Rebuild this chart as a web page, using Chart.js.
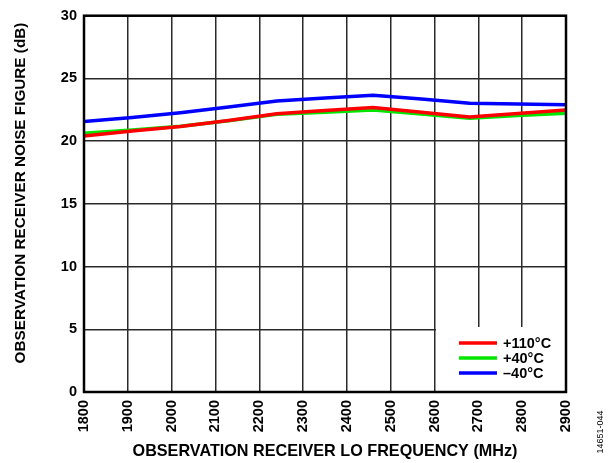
<!DOCTYPE html>
<html><head><meta charset="utf-8">
<script src="https://cdn.jsdelivr.net/npm/chart.js@4/dist/chart.umd.min.js"></script>
<style>html,body{margin:0;padding:0;background:#fff}#wrap{width:616px;height:463px;position:relative}</style>
</head><body><div id="wrap"><canvas id="c" width="616" height="463"></canvas></div>
<script>
const frequencies = [1800, 1910, 2020, 2130, 2240, 2350, 2460, 2570, 2680, 2790, 2900];
const nfPlus110 = [20.41, 20.80, 21.17, 21.65, 22.19, 22.44, 22.69, 22.31, 21.93, 22.20, 22.48];
const nfPlus40  = [20.62, 20.88, 21.18, 21.62, 22.14, 22.31, 22.48, 22.16, 21.83, 22.04, 22.22];
const nfMinus40 = [21.56, 21.88, 22.26, 22.72, 23.20, 23.43, 23.66, 23.35, 23.03, 22.97, 22.90];
const seriesLabels = ['+110°C', '+40°C', '\u201340°C'];
const seriesColors = ['#ff0000', '#00e600', '#0000ff'];
const xTickValues = [1800, 1900, 2000, 2100, 2200, 2300, 2400, 2500, 2600, 2700, 2800, 2900];
const yTickValues = [0, 5, 10, 15, 20, 25, 30];
const xTitle = 'OBSERVATION RECEIVER LO FREQUENCY (MHz)';
const yTitle = 'OBSERVATION RECEIVER NOISE FIGURE (dB)';
const figureId = '14651-044';

const FONT = "Arial, 'Liberation Sans', sans-serif";
const toPts = arr => arr.map((v, i) => ({x: frequencies[i], y: v}));
const allSeries = [nfPlus110, nfPlus40, nfMinus40];

const overlay = {
  id: 'overlay',
  afterDatasetsDraw(chart) {
    const ctx = chart.ctx, a = chart.chartArea;
    ctx.save();
    ctx.fillStyle = '#fff';
    ctx.fillRect(436, 327, a.right - 1 - 436, a.bottom - 1 - 327);
    ctx.font = 'bold 14.5px ' + FONT;
    ctx.textBaseline = 'middle';
    ctx.textAlign = 'left';
    chart.data.datasets.forEach((ds, i) => {
      const y = 343 + i * 15;
      ctx.strokeStyle = ds.borderColor;
      ctx.lineWidth = 3.5;
      ctx.beginPath(); ctx.moveTo(459, y); ctx.lineTo(497, y); ctx.stroke();
      ctx.fillStyle = '#000';
      ctx.fillText(ds.label, 503, y + 1);
    });
    ctx.restore();
  },
  afterDraw(chart) {
    const ctx = chart.ctx, a = chart.chartArea;
    ctx.save();
    ctx.strokeStyle = '#000';
    ctx.lineWidth = 2.5;
    ctx.strokeRect(a.left, a.top, a.right - a.left, a.bottom - a.top);
    ctx.restore();
    ctx.save();
    ctx.translate(21, 193);
    ctx.rotate(-Math.PI / 2);
    ctx.font = 'bold 15.3px ' + FONT;
    ctx.fillStyle = '#000';
    ctx.textAlign = 'center';
    ctx.textBaseline = 'middle';
    ctx.fillText(yTitle, 0, 0);
    ctx.restore();
    ctx.save();
    ctx.translate(601, 432);
    ctx.rotate(-Math.PI / 2);
    ctx.font = '9px ' + FONT;
    ctx.fillStyle = '#000';
    ctx.textAlign = 'center';
    ctx.textBaseline = 'middle';
    ctx.fillText(figureId, 0, 0);
    ctx.restore();
  }
};

new Chart(document.getElementById('c'), {
  type: 'line',
  data: {
    datasets: allSeries.map((s, i) => ({
      label: seriesLabels[i],
      data: toPts(s),
      borderColor: seriesColors[i],
      backgroundColor: seriesColors[i],
      borderWidth: 3.5,
      pointRadius: 0,
      tension: 0,
      fill: false
    }))
  },
  options: {
    responsive: false,
    animation: false,
    devicePixelRatio: 1,
    layout: {padding: {left: 0, right: 50, top: 11, bottom: 0}},
    plugins: {legend: {display: false}, tooltip: {enabled: false}},
    scales: {
      x: {
        type: 'linear', min: 1800, max: 2900,
        afterBuildTicks: s => { s.ticks = xTickValues.map(v => ({value: v})); },
        afterFit: s => { s.height = 71; },
        ticks: {
          color: '#000', font: {family: FONT, size: 14.5, weight: 'bold'},
          minRotation: 90, maxRotation: 90, padding: 8, autoSkip: false,
          callback: v => String(v)
        },
        grid: {color: '#2a2a2a', lineWidth: 1.5, drawTicks: false},
        border: {display: false},
        title: {display: true, text: xTitle, color: '#000',
          font: {family: FONT, size: 16.2, weight: 'bold'}, padding: {top: 0, bottom: 2}}
      },
      y: {
        type: 'linear', min: 0, max: 30,
        afterBuildTicks: s => { s.ticks = yTickValues.map(v => ({value: v})); },
        afterFit: s => { s.width = 84; },
        ticks: {color: '#000', font: {family: FONT, size: 14.5, weight: 'bold'}, padding: 7,
          callback: v => String(v)},
        grid: {color: '#2a2a2a', lineWidth: 1.5, drawTicks: false},
        border: {display: false},
        title: {display: false}
      }
    }
  },
  plugins: [overlay]
});
</script></body></html>
